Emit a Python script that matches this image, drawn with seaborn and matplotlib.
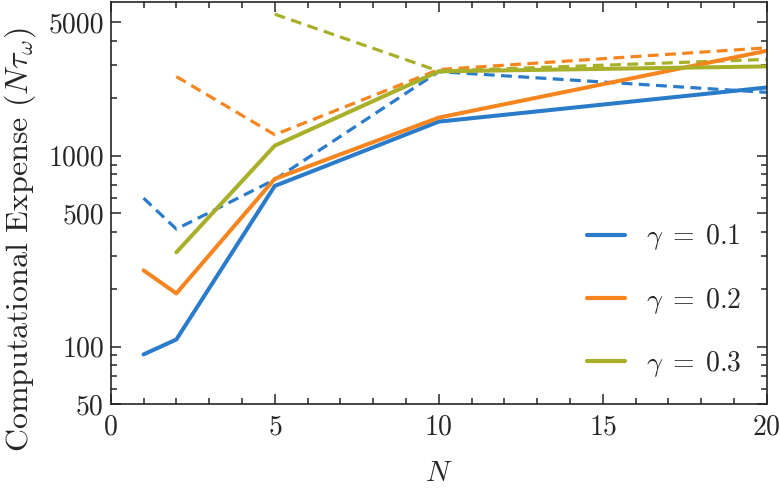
import numpy as np
import pandas as pd
import seaborn as sns
import matplotlib.pyplot as plt
from matplotlib.ticker import FixedLocator, FixedFormatter

# values
N_values = [1, 2, 5, 10, 20]
gammas = ['0.1', '0.2', '0.3']

solid_01 = [91, 109, 695, 1510, 2280]
solid_02 = [251, 190, 757, 1585, 3550]
solid_03 = [np.nan, 312, 1130, 2770, 2940]

dashed_01 = [600, 413, 750, 2760, 2150]
dashed_02 = [np.nan, 2600, 1290, 2830, 3680]
dashed_03 = [np.nan, np.nan, 5520, 2780, 3200]

colors = {'0.1': '#2a7bca', '0.2': '#f6851f', '0.3': '#a8b02a'}

rows = []
for g, s, d in zip(gammas, [solid_01, solid_02, solid_03], [dashed_01, dashed_02, dashed_03]):
    for n, v in zip(N_values, s):
        rows.append({'N': n, 'cost': v, 'gamma': g, 'kind': 'solid'})
    for n, v in zip(N_values, d):
        rows.append({'N': n, 'cost': v, 'gamma': g, 'kind': 'dashed'})
df = pd.DataFrame(rows).dropna()

sns.set_style("ticks")
plt.rcParams['font.family'] = ['cmr10', 'DejaVu Serif']
plt.rcParams['mathtext.fontset'] = 'cm'
plt.rcParams['axes.formatter.use_mathtext'] = True

fig = plt.figure(figsize=(7.8, 4.88), dpi=100)
ax = fig.add_axes([0.142, 0.172, 0.841, 0.824])

for g in gammas:
    sub = df[(df['gamma'] == g) & (df['kind'] == 'dashed')]
    sns.lineplot(data=sub, x='N', y='cost', ax=ax, color=colors[g], linewidth=2.3,
                 dashes=False, legend=False)
    ax.lines[-1].set_dashes([3.4, 2.0])
for g in gammas:
    sub = df[(df['gamma'] == g) & (df['kind'] == 'solid')]
    sns.lineplot(data=sub, x='N', y='cost', ax=ax, color=colors[g], linewidth=2.9,
                 label=r'$\gamma\;=\;%s$' % g)

ax.set_yscale('log')
ax.set_xlim(0, 20)
ax.set_ylim(50, 6400)

y_major = [50, 100, 500, 1000, 5000]
y_minor = [60, 70, 80, 90, 200, 300, 400, 600, 700, 800, 900, 2000, 3000, 4000]
ax.yaxis.set_major_locator(FixedLocator(y_major))
ax.yaxis.set_major_formatter(FixedFormatter([str(v) for v in y_major]))
ax.yaxis.set_minor_locator(FixedLocator(y_minor))
ax.yaxis.set_minor_formatter(FixedFormatter([''] * len(y_minor)))
ax.set_xticks([0, 5, 10, 15, 20])
ax.set_xticks(range(0, 21), minor=True)

ax.tick_params(which='both', direction='in', top=True, right=True, labelsize=20, width=1.1)
ax.tick_params(axis='x', pad=7)
ax.tick_params(axis='y', pad=5)
ax.tick_params(which='major', length=7)
ax.tick_params(which='minor', length=4.5)
for sp in ax.spines.values():
    sp.set_linewidth(1.2)

ax.set_xlabel(r'$N$', fontsize=21)
ax.xaxis.set_label_coords(0.5, -0.14)
ax.set_ylabel(r'Computational Expense $(N\tau_\omega)$', fontsize=23)
ax.yaxis.set_label_coords(-0.111, 0.408)

legend = ax.legend(loc='lower right', frameon=False, fontsize=20, handlelength=1.4,
                   labelspacing=1.2, handletextpad=0.75, bbox_to_anchor=(1.0, 0.0))
for line in legend.get_lines():
    line.set_linewidth(3)

fig.savefig('out.png', dpi=100)
